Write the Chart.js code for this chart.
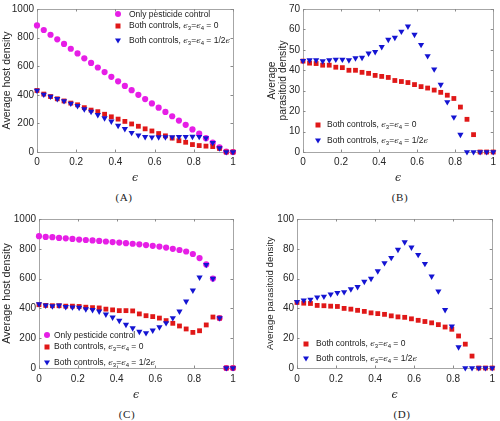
<!DOCTYPE html>
<html><head><meta charset="utf-8">
<script src="https://cdn.jsdelivr.net/npm/chart.js@4.4.0/dist/chart.umd.min.js"></script>
<style>
html,body{margin:0;padding:0;background:#fff;width:500px;height:421px;overflow:hidden;position:relative;font-family:"Liberation Sans",Arial,sans-serif;}
canvas{position:absolute;}
.lab{position:absolute;font-family:"Liberation Serif","DejaVu Serif",serif;font-size:11px;color:#222;transform:translate(-50%,-50%);white-space:nowrap;letter-spacing:0.6px}
.row{position:absolute;white-space:nowrap;transform:translateY(-50%);font-size:8.5px;color:#1a1a1a;line-height:1}
.mk{position:absolute;transform:translate(-50%,-50%)}
.ci{width:6px;height:6px;border-radius:50%;background:#e61ee6}
.sq{width:5px;height:5px;background:#e01818}
.tr{width:0;height:0;border-left:3.2px solid transparent;border-right:3.2px solid transparent;border-top:5.5px solid #1414d2}
.eps{font-family:"DejaVu Serif",serif;font-style:italic;font-size:8px}
sub{font-size:6px;vertical-align:-2px}
</style>
</head>
<body>
<canvas id="cA" width="250" height="185" style="left:0;top:0"></canvas>
<canvas id="cB" width="250" height="185" style="left:250px;top:0"></canvas>
<canvas id="cC" width="250" height="192" style="left:0;top:210px"></canvas>
<canvas id="cD" width="250" height="192" style="left:250px;top:210px"></canvas>

<div class="lab" style="left:124px;top:197px">(A)</div>
<div class="lab" style="left:400px;top:197px">(B)</div>
<div class="lab" style="left:127px;top:414px">(C)</div>
<div class="lab" style="left:402px;top:414px">(D)</div>

<!-- legend A -->
<div class="mk ci" style="left:118px;top:14px"></div>
<div class="row" style="left:129px;top:14px">Only pesticide control</div>
<div class="mk sq" style="left:118px;top:25.5px"></div>
<div class="row" style="left:129px;top:25.5px">Both controls, <span class="eps">ϵ</span><sub>3</sub>=<span class="eps">ϵ</span><sub>4</sub> = 0</div>
<div class="mk tr" style="left:118px;top:40.5px"></div>
<div class="row" style="left:129px;top:40.5px">Both controls, <span class="eps">ϵ</span><sub>3</sub>=<span class="eps">ϵ</span><sub>4</sub> = 1/2<span class="eps">ϵ</span></div>
<!-- legend B -->
<div class="mk sq" style="left:318px;top:125px"></div>
<div class="row" style="left:327px;top:125px">Both controls, <span class="eps">ϵ</span><sub>3</sub>=<span class="eps">ϵ</span><sub>4</sub> = 0</div>
<div class="mk tr" style="left:318px;top:141px"></div>
<div class="row" style="left:327px;top:141px">Both controls, <span class="eps">ϵ</span><sub>3</sub>=<span class="eps">ϵ</span><sub>4</sub> = 1/2<span class="eps">ϵ</span></div>
<!-- legend C -->
<div class="mk ci" style="left:47px;top:335px"></div>
<div class="row" style="left:54px;top:335px">Only pesticide control</div>
<div class="mk sq" style="left:47px;top:347px"></div>
<div class="row" style="left:54px;top:347px">Both controls, <span class="eps">ϵ</span><sub>3</sub>=<span class="eps">ϵ</span><sub>4</sub> = 0</div>
<div class="mk tr" style="left:47px;top:363px"></div>
<div class="row" style="left:54px;top:363px">Both controls, <span class="eps">ϵ</span><sub>3</sub>=<span class="eps">ϵ</span><sub>4</sub> = 1/2<span class="eps">ϵ</span></div>
<!-- legend D -->
<div class="mk sq" style="left:306px;top:344px"></div>
<div class="row" style="left:316px;top:344px">Both controls, <span class="eps">ϵ</span><sub>3</sub>=<span class="eps">ϵ</span><sub>4</sub> = 0</div>
<div class="mk tr" style="left:306px;top:359px"></div>
<div class="row" style="left:316px;top:359px">Both controls, <span class="eps">ϵ</span><sub>3</sub>=<span class="eps">ϵ</span><sub>4</sub> = 1/2<span class="eps">ϵ</span></div>

<script>
// epsilon values (x axis)
const epsilon = [0, 0.0345, 0.0690, 0.1034, 0.1379, 0.1724, 0.2069, 0.2414, 0.2759, 0.3103,
  0.3448, 0.3793, 0.4138, 0.4483, 0.4828, 0.5172, 0.5517, 0.5862, 0.6207, 0.6552,
  0.6897, 0.7241, 0.7586, 0.7931, 0.8276, 0.8621, 0.8966, 0.9310, 0.9655, 1];

// Panel A: average host density
const hostPesticideA = [885, 853, 820, 788, 756, 722, 689, 655, 623, 591, 559, 526, 494, 462, 432,
  400, 370, 340, 310, 280, 250, 220, 190, 158, 128, 97, 65, 33, 2, 0];
const hostBothZeroA = [430, 405, 388, 372, 357, 342, 330, 310, 293, 282, 264, 246, 230, 214, 196,
  180, 162, 147, 129, 113, 97, 79, 68, 52, 45, 41, 38, 25, 0, 0];
const hostBothHalfA = [430, 402, 388, 372, 357, 339, 323, 300, 282, 260, 237, 214, 185, 162, 135,
  117, 106, 103, 104, 104, 105, 106, 107, 108, 107, 97, 65, 27, 0, 0];

// Panel B: average parasitoid density
const paraBothZeroB = [44.5, 43.5, 43.3, 42.5, 42.5, 41.5, 41.3, 40, 40, 39, 38.5, 37.5, 37, 36.5, 35,
  34.5, 34, 33, 32, 31.3, 30.3, 29.2, 27.8, 26.2, 22, 16, 8.5, 0, 0, 0];
const paraBothHalfB = [44.7, 45, 45, 44.5, 45, 45.3, 45.3, 45, 46, 46.2, 48.3, 49, 51.5, 55, 56,
  59, 61.5, 57.5, 52.5, 47, 40.5, 33, 24.5, 17, 8.5, 0, 0, 0, 0, 0];

// Panel C: average host density
const hostPesticideC = [885, 880, 878, 873, 870, 866, 862, 859, 856, 853, 849, 845, 842, 838, 834,
  830, 825, 820, 815, 808, 800, 792, 782, 765, 738, 695, 600, 335, 0, 0];
const hostBothZeroC = [425, 420, 418, 418, 415, 415, 413, 408, 405, 403, 395, 390, 385, 385, 383,
  363, 351, 345, 335, 318, 300, 282, 262, 239, 250, 289, 342, 335, 0, 0];
const hostBothHalfC = [430, 420, 415, 420, 410, 408, 405, 395, 390, 380, 360, 340, 318, 291, 268,
  244, 235, 253, 275, 302, 336, 380, 447, 521, 608, 693, 600, 336, 0, 0];

// Panel D: average parasitoid density
const paraBothZeroD = [44, 43.5, 43.3, 42, 41.8, 41.5, 41.3, 40, 39.5, 38.7, 38, 37, 36.5, 36, 35,
  34.3, 34, 33, 32, 31.2, 30.3, 29.1, 27.5, 26, 21.5, 16, 8, 0, 0, 0];
const paraBothHalfD = [44.5, 45.5, 46, 47.5, 48, 49.5, 50.5, 51, 53, 54.5, 58, 60, 65, 70.5, 74,
  79.5, 84.5, 81, 76, 70, 61.5, 51.5, 39, 28, 14, 0, 0, 0, 0, 0];

const xTicks = [0, 0.2, 0.4, 0.6, 0.8, 1];

const MAG = '#e61ee6', RED = '#e01818', BLUE = '#1414d2';
const SANS = '"Liberation Sans", Arial, sans-serif';
const TXT = '#262626';

function pts(ys) { return ys.map((y, i) => ({x: epsilon[i], y: y})); }
function dsMag(ys) { return {data: pts(ys), pointStyle: 'circle', pointRadius: 3.1, backgroundColor: MAG, pointBackgroundColor: MAG, pointBorderWidth: 0, showLine: false, order: 3, clip: false}; }
function dsRed(ys) { return {data: pts(ys), pointStyle: 'rect', pointRadius: 3.4, backgroundColor: RED, pointBackgroundColor: RED, pointBorderWidth: 0, showLine: false, order: 2, clip: false}; }
function dsBlue(ys) { return {data: pts(ys), pointStyle: 'triangle', rotation: 180, pointRotation: 180, pointRadius: 3.6, backgroundColor: BLUE, pointBackgroundColor: BLUE, pointBorderWidth: 0, showLine: false, order: 1, clip: false}; }

const boxPlugin = {
  id: 'boxTicks',
  beforeDatasetsDraw(chart) {
    const {ctx, chartArea: a, scales} = chart;
    ctx.save();
    ctx.strokeStyle = '#a6a6a6';
    ctx.lineWidth = 1;
    ctx.strokeRect(Math.round(a.left) + 0.5, Math.round(a.top) + 0.5, Math.round(a.right - a.left), Math.round(a.bottom - a.top));
    ctx.strokeStyle = '#8a8a8a';
    const L = 2.5;
    ctx.beginPath();
    scales.x.ticks.forEach(t => {
      const px = Math.round(scales.x.getPixelForValue(t.value)) + 0.5;
      ctx.moveTo(px, a.bottom); ctx.lineTo(px, a.bottom - L);
      ctx.moveTo(px, a.top); ctx.lineTo(px, a.top + L);
    });
    scales.y.ticks.forEach(t => {
      const py = Math.round(scales.y.getPixelForValue(t.value)) + 0.5;
      ctx.moveTo(a.left, py); ctx.lineTo(a.left + L, py);
      ctx.moveTo(a.right, py); ctx.lineTo(a.right - L, py);
    });
    ctx.stroke();
    ctx.restore();
  }
};

function make(id, datasets, o) {
  new Chart(document.getElementById(id), {
    type: 'scatter',
    data: {datasets: datasets},
    plugins: [boxPlugin],
    options: {
      responsive: false, animation: false, events: [],
      layout: {padding: {left: 0, top: o.top, right: o.right, bottom: 0}},
      plugins: {legend: {display: false}, tooltip: {enabled: false}},
      scales: {
        x: {
          type: 'linear', min: 0, max: 1,
          afterBuildTicks: s => { s.ticks = xTicks.map(v => ({value: v})); },
          ticks: {padding: o.xpad, color: TXT, font: {family: SANS, size: 10}, callback: v => String(+v.toFixed(1))},
          grid: {display: false, drawTicks: false}, border: {display: false},
          title: {display: true, text: 'ϵ', color: TXT, font: {family: '"DejaVu Serif", serif', style: 'italic', size: 11}, padding: {top: 0, bottom: 0.5}},
          afterFit: s => { s.height = o.xh; }
        },
        y: {
          min: 0, max: o.ymax,
          ticks: {stepSize: o.ystep, padding: 3, color: TXT, font: {family: SANS, size: 10}, callback: v => String(v)},
          grid: {display: false, drawTicks: false}, border: {display: false},
          title: {display: true, text: o.ytitle, color: TXT, font: {family: SANS, size: o.yfs, lineHeight: 1.05}, padding: {top: o.ytp, bottom: 0}},
          afterFit: s => { s.width = o.yw; }
        }
      }
    }
  });
}

make('cA', [dsMag(hostPesticideA), dsRed(hostBothZeroA), dsBlue(hostBothHalfA)],
  {top: 5, right: 17, yw: 37, xh: 33, xpad: 4, ymax: 1000, ystep: 200, ytitle: 'Average host density', yfs: 10.5, ytp: 1.5});
make('cB', [dsRed(paraBothZeroB), dsBlue(paraBothHalfB)],
  {top: 5, right: 4, yw: 53, xh: 33, xpad: 4, ymax: 70, ystep: 10, ytitle: ['Average', 'parasitoid density'], yfs: 10.3, ytp: 16.5});
make('cC', [dsMag(hostPesticideC), dsRed(hostBothZeroC), dsBlue(hostBothHalfC)],
  {top: 9, right: 17, yw: 39, xh: 34, xpad: 5, ymax: 1000, ystep: 200, ytitle: 'Average host density', yfs: 10.8, ytp: 1.5});
make('cD', [dsRed(paraBothZeroD), dsBlue(paraBothHalfD)],
  {top: 9, right: 4, yw: 47, xh: 34, xpad: 5, ymax: 100, ystep: 20, ytitle: 'Average parasitoid density', yfs: 9.6, ytp: 15});
</script>
</body></html>
